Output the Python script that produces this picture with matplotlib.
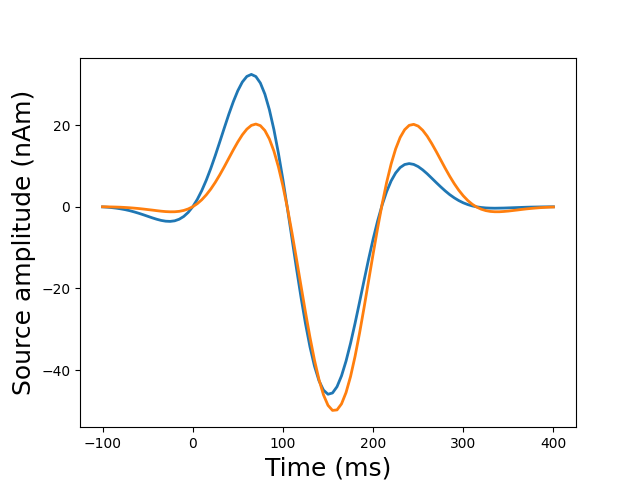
import matplotlib
matplotlib.use("Agg")
import matplotlib.pyplot as plt
import numpy as np

times = np.arange(-100, 401, 5)

source_1 = [
    -0.04, -0.11, -0.21, -0.34, -0.51, -0.71, -0.96, -1.26, -1.59, -1.95,
    -2.33, -2.71, -3.06, -3.35, -3.54, -3.59, -3.45, -3.06, -2.39, -1.38,
    0.00, 1.77, 3.94, 6.49, 9.37, 12.54, 15.89, 19.29, 22.63, 25.72,
    28.42, 30.54, 31.91, 32.41, 31.89, 30.30, 27.58, 23.76, 18.91, 13.13,
    6.63, -0.40, -7.71, -15.03, -22.07, -28.58, -34.30, -39.03, -42.61, -44.92,
    -45.92, -45.61, -44.07, -41.41, -37.80, -33.45, -28.55, -23.35, -18.05, -12.85,
    -7.96, -3.50, 0.41, 3.69, 6.32, 8.27, 9.60, 10.34, 10.57, 10.37,
    9.83, 9.03, 8.07, 7.00, 5.92, 4.87, 3.87, 2.96, 2.18, 1.51,
    0.96, 0.53, 0.20, -0.03, -0.19, -0.29, -0.34, -0.36, -0.34, -0.32,
    -0.28, -0.24, -0.20, -0.16, -0.12, -0.09, -0.07, -0.05, -0.03, -0.02,
    -0.01,
]

source_2 = [
    -0.01, -0.03, -0.05, -0.08, -0.12, -0.18, -0.25, -0.34, -0.44, -0.56,
    -0.69, -0.82, -0.96, -1.09, -1.19, -1.24, -1.23, -1.13, -0.91, -0.54,
    0.00, 0.74, 1.70, 2.90, 4.32, 5.97, 7.81, 9.79, 11.86, 13.92,
    15.87, 17.61, 19.00, 19.92, 20.25, 19.86, 18.67, 16.60, 13.64, 9.78,
    5.10, -0.32, -6.32, -12.72, -19.30, -25.80, -31.97, -37.56, -42.34, -46.08,
    -48.64, -49.88, -49.76, -48.28, -45.51, -41.58, -36.65, -30.94, -24.69, -18.15,
    -11.61, -5.28, 0.63, 5.93, 10.47, 14.16, 16.97, 18.87, 19.93, 20.18,
    19.75, 18.73, 17.28, 15.49, 13.53, 11.47, 9.41, 7.45, 5.65, 4.05,
    2.67, 1.52, 0.60, -0.10, -0.61, -0.95, -1.15, -1.23, -1.23, -1.16,
    -1.06, -0.93, -0.80, -0.66, -0.53, -0.42, -0.32, -0.23, -0.17, -0.11,
    -0.07,
]

fig, ax = plt.subplots(figsize=(6.4, 4.8), dpi=100)
ax.plot(times, source_1, linewidth=2)
ax.plot(times, source_2, linewidth=2)
ax.set_xlabel("Time (ms)", fontsize=18)
ax.set_ylabel("Source amplitude (nAm)", fontsize=18)
fig.savefig("out.png", dpi=100)
